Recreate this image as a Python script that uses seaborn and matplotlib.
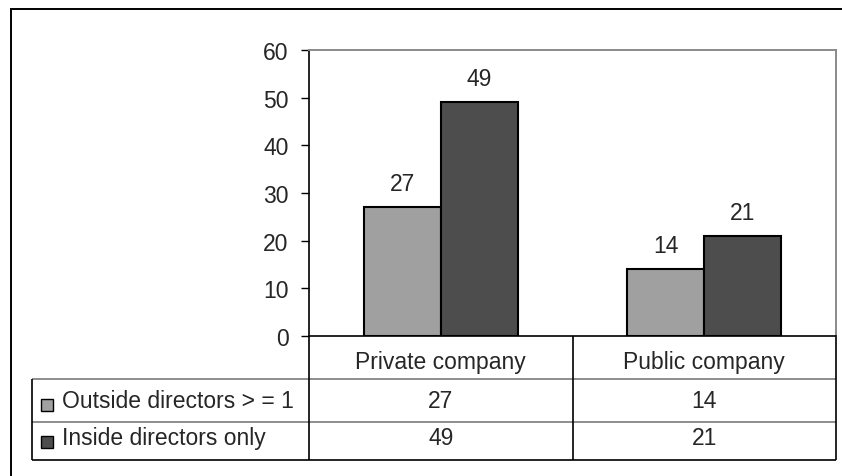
import matplotlib
matplotlib.use("Agg")
import matplotlib.pyplot as plt
from matplotlib.lines import Line2D
from matplotlib.patches import Rectangle
import seaborn as sns
import pandas as pd

# Data
categories = ["Private company", "Public company"]
series_names = ["Outside directors > = 1", "Inside directors only"]
outside_values = [27, 14]
inside_values = [49, 21]
y_ticks = [0, 10, 20, 30, 40, 50, 60]

series_values = [outside_values, inside_values]
colors = ["#a0a0a0", "#4d4d4d"]

df = pd.DataFrame({
    "category": categories * 2,
    "series": [series_names[0]] * 2 + [series_names[1]] * 2,
    "value": outside_values + inside_values,
})

sns.set_style("white")
plt.rcParams["font.family"] = ["Liberation Sans", "DejaVu Sans"]
FS = 16.5

W, H = 842, 477
fig = plt.figure(figsize=(W / 100, H / 100), dpi=100)


def fx(px):
    return px / W


def fy(py):
    return 1 - py / H


# plot area in pixel units
PL, PR, PT, PB = 309, 836, 51, 337
ax = fig.add_axes([fx(PL), fy(PB), fx(PR - PL), fy(PT) - fy(PB)])

bar_group_width = 0.584
sns.barplot(data=df, x="category", y="value", hue="series",
            palette=colors, edgecolor="black", linewidth=1.5,
            width=bar_group_width, dodge=True, legend=False, ax=ax,
            saturation=1)

ax.set_ylim(0, 60)
ax.set_xlim(-0.5, len(categories) - 0.5)
ax.set_yticks(y_ticks)
ax.set_yticklabels([str(t) for t in y_ticks], fontsize=FS)
ax.tick_params(axis="y", direction="out", length=5.8, width=1.0,
               color="black", pad=9, left=True)
ax.tick_params(axis="x", bottom=False, labelbottom=False)
ax.set_xlabel("")
ax.set_ylabel("")
for side in ["top", "right"]:
    ax.spines[side].set_color("#8a8a8a")
    ax.spines[side].set_linewidth(1.4)
for side in ["left", "bottom"]:
    ax.spines[side].set_color("black")
    ax.spines[side].set_linewidth(1.2)

# value labels above bars
bw = bar_group_width / len(series_names)
for j, vals in enumerate(series_values):
    for i, v in enumerate(vals):
        x = i + (j - (len(series_names) - 1) / 2) * bw
        ax.annotate(str(v), (x, v), xytext=(0, 12.2), textcoords="offset points",
                    ha="center", va="baseline", fontsize=FS)

# overlay in pixel coordinates for frame and data table
ov = fig.add_axes([0, 0, 1, 1], zorder=-1)
ov.set_xlim(0, W)
ov.set_ylim(H, 0)
ov.axis("off")


def line(x0, y0, x1, y1, color="black", lw=1.2):
    ov.add_line(Line2D([x0, x1], [y0, y1], color=color, lw=lw,
                       solid_capstyle="butt"))


# outer chart border
line(10, 10, W + 5, 10, lw=1.4)
line(10.5, 10, 10.5, H + 5, lw=1.4)

# data table geometry
TL = 32
row_tops = [PB, 380, 423, 461]
col_w = (PR - PL) / len(categories)
col_edges = [PL + k * col_w for k in range(len(categories) + 1)]

# horizontal rules
line(PL, row_tops[1], PR, row_tops[1], color="#7a7a7a")
line(TL, row_tops[1], PL, row_tops[1], color="#7a7a7a")
line(TL, row_tops[2], PR, row_tops[2], color="#7a7a7a")
line(TL, row_tops[3], PR, row_tops[3])
# vertical rules
for xe in col_edges:
    line(xe, PB, xe, row_tops[3])
line(TL, row_tops[1], TL, row_tops[3])

# category header row
for i, cat in enumerate(categories):
    cx = col_edges[i] + col_w / 2
    ov.text(cx, 369.5, cat, ha="center", va="baseline", fontsize=FS)

# series rows with legend keys
baselines = [408.5, 445.5]
key_centers = [405.5, 442.5]
for j, name in enumerate(series_names):
    ov.add_patch(Rectangle((41, key_centers[j] - 6), 12, 12,
                           facecolor=colors[j], edgecolor="black", lw=1.0))
    ov.text(62, baselines[j], name, ha="left", va="baseline", fontsize=FS)
    for i, v in enumerate(series_values[j]):
        cx = col_edges[i] + col_w / 2
        ov.text(cx, baselines[j], str(v), ha="center", va="baseline", fontsize=FS)

fig.savefig("out.png", dpi=100, facecolor="white")
